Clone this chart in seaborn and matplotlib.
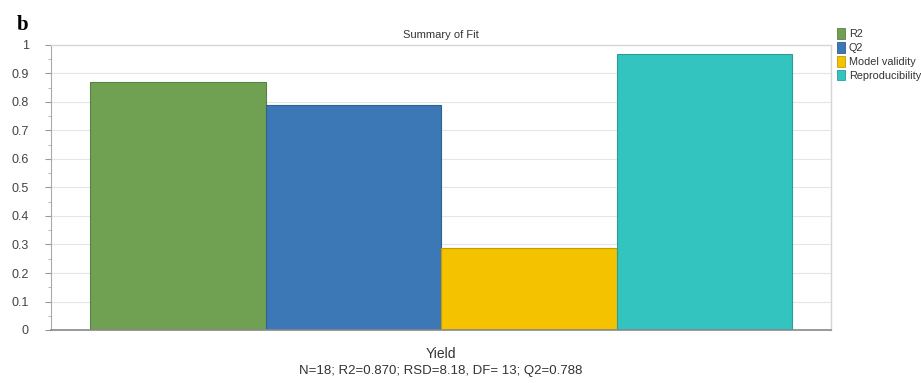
import matplotlib
matplotlib.use("Agg")
import matplotlib.pyplot as plt
from matplotlib.ticker import FuncFormatter, MultipleLocator
from matplotlib.patches import Patch
import matplotlib.colors as mcolors
import seaborn as sns
import pandas as pd

# Summary-of-fit statistics for the Yield response
metrics = ["R2", "Q2", "Model validity", "Reproducibility"]
values = [0.870, 0.788, 0.289, 0.970]
response = "Yield"
colors = ["#70A153", "#3B78B5", "#F5C200", "#33C4C0"]
stats_line = "N=18; R2=0.870; RSD=8.18, DF= 13; Q2=0.788"

df = pd.DataFrame({"Response": [response] * len(metrics),
                   "Metric": metrics,
                   "Value": values})

sns.set_theme(style="white")
plt.rcParams["font.family"] = ["Liberation Sans", "DejaVu Sans"]

fig = plt.figure(figsize=(9.21, 3.83), dpi=100)
ax = fig.add_axes([51 / 921, 1 - 330 / 383, 780 / 921, 285 / 383])

sns.barplot(data=df, x="Response", y="Value", hue="Metric",
            hue_order=metrics, palette=colors, width=0.9,
            saturation=1, ax=ax, legend=False)

# darker outline on each bar
for patch in ax.patches:
    fc = mcolors.to_rgb(patch.get_facecolor())
    patch.set_edgecolor(tuple(c * 0.8 for c in fc))
    patch.set_linewidth(0.8)

ax.set_xlim(-0.5, 0.5)
ax.set_ylim(0, 1.0)
ax.yaxis.set_major_locator(MultipleLocator(0.1))
ax.yaxis.set_minor_locator(MultipleLocator(0.05))
ax.yaxis.set_major_formatter(FuncFormatter(lambda v, p: f"{v:g}"))
ax.grid(axis="y", which="major", color="#e6e6e6", linewidth=0.8)
ax.set_axisbelow(True)

ax.tick_params(axis="y", which="major", left=True, length=4, width=0.8,
               color="#999999", pad=12, labelsize=9, labelcolor="#444444")
ax.tick_params(axis="y", which="minor", left=True, length=2, width=0.6,
               color="#aaaaaa")
ax.tick_params(axis="x", bottom=False, labelsize=10, labelcolor="#333333", pad=6)

for side in ["top", "right"]:
    ax.spines[side].set_color("#d6d6d6")
    ax.spines[side].set_linewidth(1.0)
ax.spines["left"].set_color("#aaaaaa")
ax.spines["left"].set_linewidth(0.8)
ax.spines["bottom"].set_color("#888888")
ax.spines["bottom"].set_linewidth(1.2)

ax.set_ylabel("")
ax.set_xlabel(stats_line, fontsize=9.5, color="#333333", labelpad=3)
ax.set_title("Summary of Fit", fontsize=8, color="#333333", pad=5)

handles = [Patch(facecolor=c, edgecolor=tuple(x * 0.8 for x in mcolors.to_rgb(c)),
                 linewidth=0.6) for c in colors]
fig.legend(handles, metrics, loc="upper left",
           bbox_to_anchor=(833 / 921, 1 - 24 / 383),
           frameon=False, fontsize=7.8, handlelength=0.75, handleheight=1.15,
           handletextpad=0.3, labelspacing=0.25, borderaxespad=0,
           labelcolor="#333333")

fig.text(17 / 921, 1 - 30 / 383, "b", fontsize=15, fontweight="bold",
         family="Liberation Serif", color="black")

fig.savefig("out.png", dpi=100)
